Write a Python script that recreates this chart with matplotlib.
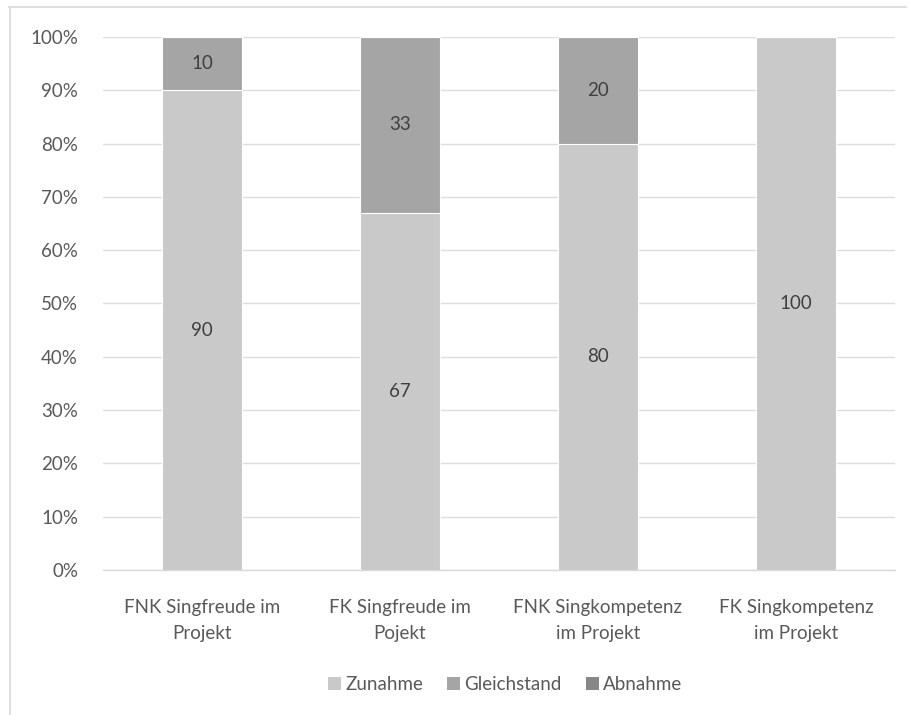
import matplotlib
matplotlib.use("Agg")
import matplotlib.pyplot as plt
from matplotlib.patches import Patch
from matplotlib.lines import Line2D

plt.rcParams['font.family'] = ['Lato', 'DejaVu Sans']

categories = ["FNK Singfreude im\nProjekt", "FK Singfreude im\nPojekt",
              "FNK Singkompetenz\nim Projekt", "FK Singkompetenz\nim Projekt"]
zunahme = [90, 67, 80, 100]
gleichstand = [10, 33, 20, 0]
abnahme = [0, 0, 0, 0]
series_names = ["Zunahme", "Gleichstand", "Abnahme"]
colors = ["#C9C9C9", "#A5A5A5", "#878787"]
y_ticks = [0, 10, 20, 30, 40, 50, 60, 70, 80, 90, 100]

text_col = "#595959"
label_col = "#404040"
fs = 13.5

fig = plt.figure(figsize=(9.1, 7.15), dpi=100)
ax = fig.add_axes([0.1132, 0.2028, 0.8703, 0.7455])

x = list(range(len(categories)))
series = [zunahme, gleichstand, abnahme]
totals = [sum(v) for v in zip(*series)]
bottoms = [0.0] * len(categories)
for vals, col in zip(series, colors):
    pct = [v / t * 100 for v, t in zip(vals, totals)]
    ax.bar(x, pct, bottom=bottoms, width=0.4, color=col,
           edgecolor="white", linewidth=0.8, zorder=3)
    for xi, v, p, b in zip(x, vals, pct, bottoms):
        if v > 0:
            ax.text(xi, b + p / 2, f"{v}", ha="center", va="center",
                    fontsize=fs, color=label_col, zorder=4)
    bottoms = [b + p for b, p in zip(bottoms, pct)]

ax.set_xlim(-0.5, len(categories) - 0.5)
ax.set_ylim(0, 100)
ax.set_yticks(y_ticks)
ax.set_yticklabels([f"{t}%" for t in y_ticks])
ax.set_xticks(x)
ax.set_xticklabels(categories)
ax.yaxis.grid(True, color="#DDDDDD", linewidth=1.0, zorder=0)
ax.set_axisbelow(True)
for s in ["top", "right", "left"]:
    ax.spines[s].set_visible(False)
ax.spines["bottom"].set_color("#D9D9D9")
ax.spines["bottom"].set_linewidth(1.0)
ax.tick_params(axis="both", length=0, labelsize=fs, labelcolor=text_col)
ax.tick_params(axis="y", pad=18)
ax.tick_params(axis="x", pad=21)
for lbl in ax.get_xticklabels():
    lbl.set_linespacing(1.65)

handles = [Patch(facecolor=c, edgecolor="none") for c in colors]
leg = fig.legend(handles, series_names, loc="center", bbox_to_anchor=(0.555, 0.042),
                 ncol=3, frameon=False, fontsize=fs, handlelength=0.7,
                 handleheight=0.7, handletextpad=0.2, columnspacing=1.3)
for t in leg.get_texts():
    t.set_color(text_col)

# chart frame (top and left edges)
fig.add_artist(Line2D([9 / 910, 906 / 910], [1 - 7 / 715, 1 - 7 / 715],
                      transform=fig.transFigure, color="#D9D9D9", linewidth=1.2))
fig.add_artist(Line2D([10 / 910, 10 / 910], [1 - 7 / 715, 0],
                      transform=fig.transFigure, color="#D9D9D9", linewidth=1.2))

fig.savefig("out.png", dpi=100)
